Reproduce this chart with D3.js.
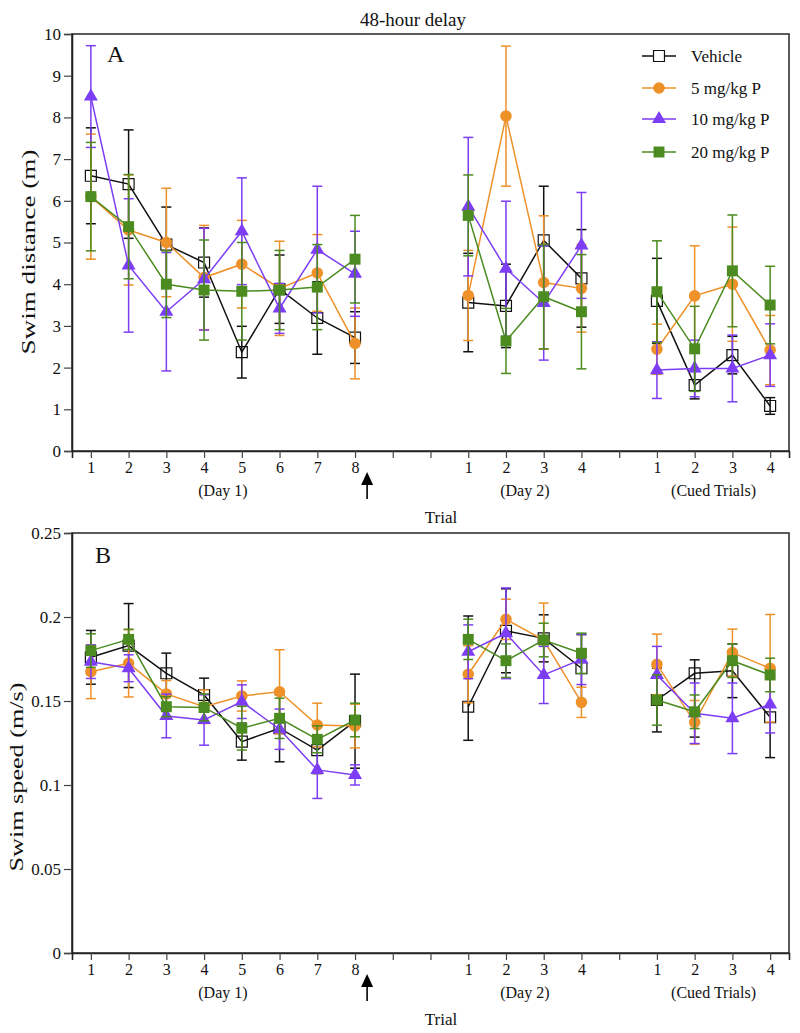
<!DOCTYPE html>
<html><head><meta charset="utf-8">
<script src="https://cdn.jsdelivr.net/npm/d3@7"></script>
<style>
body{margin:0;background:#fff;}
svg text{font-family:"Liberation Serif","Times New Roman",serif;fill:#111;}
</style></head>
<body><svg id="c" width="800" height="1033"></svg>
<script>
// ---- data ----
const day1Trials = ["1","2","3","4","5","6","7","8"];
const day2Trials = ["1","2","3","4"];
const cuedTrials = ["1","2","3","4"];
const groupLabels = ["(Day 1)", "(Day 2)", "(Cued Trials)"];
const seriesNames = ["Vehicle", "5 mg/kg P", "10 mg/kg P", "20 mg/kg P"];
const seriesColors = ["#111111", "#EE9128", "#7D3DF5", "#4B8B1F"];
const distTicks = [0,1,2,3,4,5,6,7,8,9,10];
const speedTicks = [0,0.05,0.1,0.15,0.2,0.25];

// Panel A: swim distance (m), order: Day1 1-8, Day2 1-4, Cued 1-4
const vehDist   = [6.6, 6.4, 4.95, 4.52, 2.37, 3.88, 3.19, 2.72, 3.56, 3.48, 5.05, 4.14, 3.6, 1.58, 2.3, 1.08];
const vehDistErr= [1.15, 1.3, 0.9, 0.83, 0.62, 0.82, 0.87, 0.62, 1.18, 1.0, 1.3, 1.17, 1.02, 0.33, 0.45, 0.2];
const p5Dist    = [6.1, 5.3, 5.0, 4.16, 4.48, 3.9, 4.27, 2.58, 3.73, 8.03, 4.04, 3.9, 2.44, 3.72, 4.0, 2.42];
const p5DistErr = [1.5, 1.32, 1.3, 1.25, 1.05, 1.13, 0.92, 0.85, 1.08, 1.68, 1.6, 1.05, 0.6, 1.2, 1.37, 0.83];
const p10Dist   = [8.5, 4.45, 3.34, 4.12, 5.27, 3.42, 4.83, 4.25, 5.86, 4.37, 3.55, 4.93, 1.94, 1.98, 1.98, 2.3];
const p10DistErr= [1.22, 1.6, 1.42, 1.22, 1.28, 0.6, 1.52, 1.02, 1.66, 1.62, 1.37, 1.27, 0.68, 0.68, 0.8, 0.75];
const p20Dist   = [6.1, 5.38, 4.0, 3.86, 3.83, 3.86, 3.93, 4.6, 5.65, 2.64, 3.7, 3.34, 3.82, 2.45, 4.32, 3.5];
const p20DistErr= [1.3, 1.25, 0.8, 1.2, 1.17, 0.95, 1.02, 1.05, 0.97, 0.78, 1.25, 1.37, 1.22, 1.02, 1.34, 0.93];

// Panel B: swim speed (m/s); an error given as [below, above] is asymmetric
const vehSpeed   = [0.176, 0.183, 0.1665, 0.1536, 0.1258, 0.1338, 0.1208, 0.138, 0.1466, 0.1918, 0.1873, 0.1695, 0.1506, 0.1665, 0.168, 0.1403];
const vehSpeedErr= [0.016, 0.025, 0.012, 0.01, 0.011, 0.02, 0.014, 0.028, [0.02, 0.054], 0.025, 0.014, 0.02, 0.019, [0.038, 0.008], 0.016, 0.024];
const p5Speed    = [0.1674, 0.1724, 0.1542, 0.1466, 0.153, 0.1555, 0.1357, 0.1351, 0.1659, 0.1986, 0.1863, 0.1492, 0.1718, 0.1373, 0.1788, 0.1695];
const p5SpeedErr = [0.016, 0.02, 0.008, 0.01, 0.009, 0.025, 0.013, 0.013, 0.017, 0.012, 0.022, 0.009, 0.018, 0.013, 0.014, 0.032];
const p10Speed   = [0.1734, 0.1695, 0.1411, 0.1387, 0.1496, 0.1332, 0.109, 0.106, 0.1793, 0.1903, 0.1655, 0.1748, 0.1655, 0.1427, 0.1397, 0.148];
const p10SpeedErr= [0.01, 0.008, 0.013, 0.015, 0.01, 0.012, 0.017, 0.006, 0.016, 0.027, 0.017, 0.015, 0.017, 0.018, 0.021, 0.017];
const p20Speed   = [0.18, 0.1867, 0.1466, 0.1462, 0.1338, 0.1397, 0.1272, 0.1387, 0.1867, 0.174, 0.1863, 0.1784, 0.1506, 0.1436, 0.174, 0.1655];
const p20SpeedErr= [0.01, 0.006, 0.006, 0.008, 0.013, 0.012, 0.008, 0.01, 0.012, 0.01, 0.01, 0.012, 0.015, 0.01, 0.01, 0.01];

// ---- slots along x (with blank gaps) ----
const slots = [];
day1Trials.forEach((t,i)=>slots.push({id:"d1-"+i, label:t, seg:0}));
slots.push({id:"g1",label:"",seg:-1}); slots.push({id:"g2",label:"",seg:-1});
day2Trials.forEach((t,i)=>slots.push({id:"d2-"+i, label:t, seg:1}));
slots.push({id:"g3",label:"",seg:-1});
cuedTrials.forEach((t,i)=>slots.push({id:"c-"+i, label:t, seg:2}));
const dataSlots = slots.filter(s=>s.seg>=0);

const svg = d3.select("#c");
const X0 = 72, X1 = 789;
const x = d3.scalePoint().domain(slots.map(s=>s.id)).range([X0, X1]).padding(0.5);
const labelOf = Object.fromEntries(slots.map(s=>[s.id,s.label]));

const symbols = [d3.symbolSquare, d3.symbolCircle, d3.symbolTriangle, d3.symbolSquare];
const symSizes = [120, 105, 85, 120];
const fills = ["none", seriesColors[1], seriesColors[2], seriesColors[3]];

svg.append("text").attr("x", 413).attr("y", 26).attr("text-anchor","middle")
  .style("font-size","19px").text("48-hour delay");

function panel(cfg){
  const y = d3.scaleLinear().domain(cfg.domain).range([cfg.bottom, cfg.top]);
  const g = svg.append("g");
  g.append("rect").attr("x",X0).attr("y",cfg.top).attr("width",X1-X0).attr("height",cfg.bottom-cfg.top)
    .attr("fill","none").attr("stroke","#333").attr("stroke-width",1.6);
  const ya = g.append("g").attr("transform",`translate(${X0},0)`)
    .call(d3.axisLeft(y).tickValues(cfg.ticks).tickSize(8).tickPadding(3).tickFormat(d3.format("")));
  ya.select(".domain").attr("stroke","#222").attr("stroke-width",1.6);
  ya.selectAll(".tick line").attr("stroke","#444").attr("stroke-width",1.2);
  ya.selectAll(".tick text").style("font-size","17px").style("font-family","Liberation Serif").attr("fill","#111");
  const xa = g.append("g").attr("transform",`translate(0,${cfg.bottom})`)
    .call(d3.axisBottom(x).tickSize(7).tickPadding(4).tickFormat(d=>labelOf[d]));
  xa.select(".domain").attr("stroke","#222").attr("stroke-width",1.6);
  xa.selectAll(".tick line").attr("stroke","#444").attr("stroke-width",1.2);
  xa.selectAll(".tick text").style("font-size","16px").style("font-family","Liberation Serif").attr("fill","#111");
  const segs = [day1Trials.map((_,i)=>"d1-"+i), day2Trials.map((_,i)=>"d2-"+i), cuedTrials.map((_,i)=>"c-"+i)];
  segs.forEach((ids,k)=>{
    const cx = (x(ids[0]) + x(ids[ids.length-1]))/2;
    g.append("text").attr("x",cx).attr("y",cfg.bottom+45).attr("text-anchor","middle")
      .style("font-size","16px").text(groupLabels[k]);
  });
  g.append("text").attr("x",441).attr("y",cfg.bottom+72).attr("text-anchor","middle")
    .style("font-size","17px").text("Trial");
  const ax = x("d1-7") + 0.32*x.step();
  g.append("line").attr("x1",ax).attr("x2",ax).attr("y1",cfg.bottom+33).attr("y2",cfg.bottom+48)
    .attr("stroke","#000").attr("stroke-width",1.6);
  g.append("path").attr("d",`M${ax},${cfg.bottom+21} L${ax-6},${cfg.bottom+34} L${ax+6},${cfg.bottom+34} Z`).attr("fill","#000");
  g.append("text").attr("transform",`translate(${cfg.ylabelX},${cfg.ylabelY}) rotate(-90)`).attr("text-anchor","middle")
    .attr("textLength",cfg.ylabelLen).attr("lengthAdjust","spacingAndGlyphs")
    .style("font-size","18px").text(cfg.ylabel);
  g.append("text").attr("x",cfg.letterX).attr("y",cfg.letterY).style("font-size","24px").text(cfg.letter);

  cfg.series.forEach((s,si)=>{
    const col = seriesColors[si];
    const pts = dataSlots.map((sl,i)=>{
      const e = s.errs[i];
      const lo = Array.isArray(e) ? e[0] : e, hi = Array.isArray(e) ? e[1] : e;
      return {id:sl.id, seg:sl.seg, v:s.vals[i], lo:s.vals[i]-lo, hi:s.vals[i]+hi};
    });
    const sg = g.append("g");
    const eb = sg.selectAll(".eb").data(pts).enter().append("g");
    eb.append("line").attr("x1",d=>x(d.id)).attr("x2",d=>x(d.id)).attr("y1",d=>y(d.lo)).attr("y2",d=>y(d.hi))
      .attr("stroke",col).attr("stroke-width",1.5);
    ["lo","hi"].forEach(k=>{
      eb.append("line").attr("x1",d=>x(d.id)-5).attr("x2",d=>x(d.id)+5)
        .attr("y1",d=>y(d[k])).attr("y2",d=>y(d[k]))
        .attr("stroke",col).attr("stroke-width",1.5);
    });
    const line = d3.line().x(d=>x(d.id)).y(d=>y(d.v));
    [0,1,2].forEach(k=>{
      sg.append("path").datum(pts.filter(p=>p.seg===k)).attr("d",line)
        .attr("fill","none").attr("stroke",col).attr("stroke-width",1.5);
    });
    sg.selectAll(".m").data(pts).enter().append("path")
      .attr("transform",d=>`translate(${x(d.id)},${y(d.v)})`)
      .attr("d",d3.symbol().type(symbols[si]).size(symSizes[si]))
      .attr("fill",fills[si]).attr("stroke",col).attr("stroke-width",si===0?1.2:0);
  });
}

panel({domain:[0,10], top:34, bottom:451, ticks:distTicks, ylabel:"Swim distance (m)", ylabelX:35, ylabelY:252, ylabelLen:205,
  letter:"A", letterX:107, letterY:62,
  series:[{vals:vehDist,errs:vehDistErr},{vals:p5Dist,errs:p5DistErr},{vals:p10Dist,errs:p10DistErr},{vals:p20Dist,errs:p20DistErr}]});
panel({domain:[0,0.25], top:533, bottom:953, ticks:speedTicks, ylabel:"Swim speed (m/s)", ylabelX:23, ylabelY:777, ylabelLen:189,
  letter:"B", letterX:95, letterY:563,
  series:[{vals:vehSpeed,errs:vehSpeedErr},{vals:p5Speed,errs:p5SpeedErr},{vals:p10Speed,errs:p10SpeedErr},{vals:p20Speed,errs:p20SpeedErr}]});

const lg = svg.append("g");
const legY = [56, 88, 119, 152];
seriesNames.forEach((n,i)=>{
  lg.append("line").attr("x1",642).attr("x2",676).attr("y1",legY[i]).attr("y2",legY[i])
    .attr("stroke",seriesColors[i]).attr("stroke-width",1.5);
  lg.append("path").attr("transform",`translate(659,${legY[i]})`)
    .attr("d",d3.symbol().type(symbols[i]).size(symSizes[i]))
    .attr("fill",i===0?"#fff":fills[i]).attr("stroke",seriesColors[i]).attr("stroke-width",i===0?1.2:0);
  lg.append("text").attr("x",691).attr("y",legY[i]+6).style("font-size","17px").text(n);
});
</script></body></html>
